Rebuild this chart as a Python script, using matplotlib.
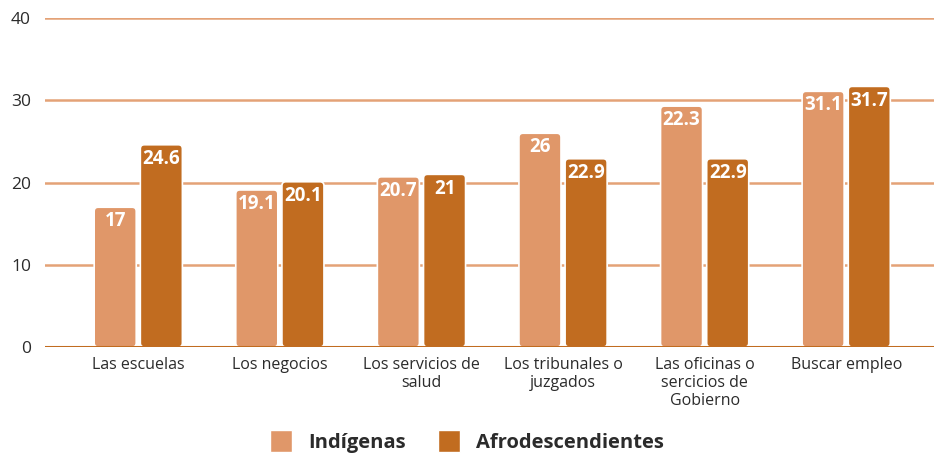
import matplotlib.pyplot as plt
from matplotlib.patches import FancyBboxPatch, Patch
import numpy as np

# data
categories = ['Las escuelas', 'Los negocios', 'Los servicios de\nsalud',
              'Los tribunales o\njuzgados', 'Las oficinas o\nsercicios de\nGobierno',
              'Buscar empleo']
indigenas = [17, 19.1, 20.7, 26, 29.3, 31.1]          # bar heights as drawn
indigenas_labels = ['17', '19.1', '20.7', '26', '22.3', '31.1']
afro = [24.6, 20.1, 21, 22.9, 22.9, 31.7]
afro_labels = ['24.6', '20.1', '21', '22.9', '22.9', '31.7']
series_names = ['Indígenas', 'Afrodescendientes']

c_light = '#E09769'
c_dark = '#C16C20'
grid_c = '#E4A277'
txt_c = '#2b2b2b'

plt.rcParams['font.family'] = ['Open Sans', 'DejaVu Sans']

fig = plt.figure(figsize=(9.34, 4.54), dpi=100)
ax = fig.add_axes([0.048, 0.2357, 0.952, 0.7243])

x = np.arange(len(categories))
w = 0.297
off = 0.163

ax.set_xlim(-0.66, 5.62)
ax.set_ylim(0, 40)

# gridlines
for v in [10, 20, 30, 40]:
    ax.axhline(v, color=grid_c, lw=1.8, zorder=1)
ax.axhline(0, color=c_dark, lw=2.2, zorder=4)

# aspect factor for rounded corners (data units y per data unit x)
bbox = ax.get_position()
px_w = bbox.width * fig.get_figwidth() * fig.dpi
px_h = bbox.height * fig.get_figheight() * fig.dpi
ypx = 40 / px_h
xpx = 6.28 / px_w
aspect = ypx / xpx


def draw_bars(xs, vals, labels, color):
    bars = ax.bar(xs, vals, w, color=color)
    for b, lab in zip(bars, labels):
        bx, by = b.get_x(), b.get_y()
        bw, bh = b.get_width(), b.get_height()
        b.set_visible(False)
        p = FancyBboxPatch((bx, by), bw, bh,
                           boxstyle='round,pad=0,rounding_size=%f' % (4 * xpx),
                           mutation_aspect=aspect,
                           facecolor=color, edgecolor='white', lw=1.2, zorder=3)
        ax.add_patch(p)
        ax.annotate(lab, (bx + bw / 2, by + bh), xytext=(0, -3),
                    textcoords='offset points', ha='center', va='top',
                    color='white', fontsize=13.5, fontweight='bold', zorder=5)


draw_bars(x - off, indigenas, indigenas_labels, c_light)
draw_bars(x + off, afro, afro_labels, c_dark)

ax.set_yticks([0, 10, 20, 30, 40])
ax.set_xticks(x)
ax.set_xticklabels(categories, fontsize=11.5, color=txt_c, linespacing=1.18)
ax.tick_params(axis='y', labelsize=12.5, colors=txt_c, length=0, pad=10)
ax.tick_params(axis='x', length=0, pad=7)
for s in ax.spines.values():
    s.set_visible(False)

handles = [Patch(facecolor=c_light, edgecolor='white'),
           Patch(facecolor=c_dark, edgecolor='white')]
leg = fig.legend(handles, series_names, loc='center', bbox_to_anchor=(0.5, 0.027),
                 ncol=2, frameon=False, handlelength=1.1, handleheight=1.3,
                 columnspacing=1.6, handletextpad=0.8,
                 prop={'weight': 'bold', 'size': 14.5})
for t in leg.get_texts():
    t.set_color(txt_c)

fig.savefig('out.png', dpi=100)
